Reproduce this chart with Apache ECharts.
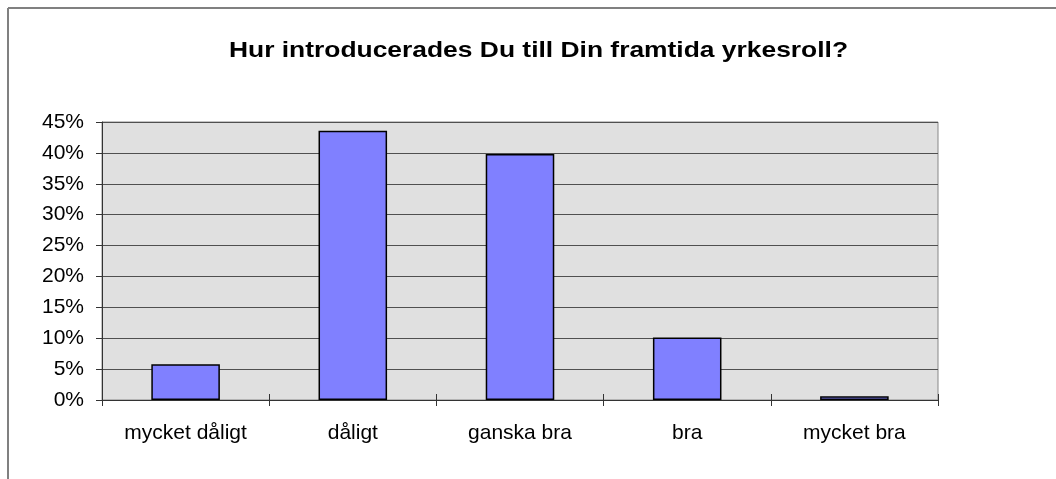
<!DOCTYPE html>
<html>
<head>
<meta charset="utf-8">
<script src="https://cdn.jsdelivr.net/npm/echarts@6/dist/echarts.min.js"></script>
<style>html,body{margin:0;padding:0;background:#fff;}#c{width:1056px;height:479px;}</style>
</head>
<body>
<div id="c"></div>
<script>
const titleText = "Hur introducerades Du till Din framtida yrkesroll?";
const categories = ["mycket dåligt", "dåligt", "ganska bra", "bra", "mycket bra"];
const values = [5.8, 43.6, 39.8, 10.1, 0.6];
const yMin = 0, yMax = 45, yStep = 5;

const chart = echarts.init(document.getElementById('c'), null, {renderer: 'canvas'});
const font = '"Liberation Sans", Arial, sans-serif';
chart.setOption({
  animation: false,
  backgroundColor: '#ffffff',
  graphic: [
    {type: 'line', shape: {x1: 8, y1: 8, x2: 1056, y2: 8}, style: {stroke: '#808080', lineWidth: 2}},
    {type: 'line', shape: {x1: 8, y1: 8, x2: 8, y2: 479}, style: {stroke: '#808080', lineWidth: 2}},
    {type: 'text', x: 538.5, y: 51, scaleX: 1.2, scaleY: 1,
     style: {text: titleText, fontFamily: font, fontSize: 22, fontWeight: 'bold', fill: '#000',
             textAlign: 'center', textVerticalAlign: 'middle'}}
  ],
  grid: {
    left: 102, right: 118, top: 122, bottom: 79,
    show: true, backgroundColor: '#e0e0e0', borderColor: '#888888', borderWidth: 1
  },
  xAxis: [{
    type: 'category', data: categories,
    axisLine: {lineStyle: {color: '#333', width: 1}},
    axisTick: {show: true, alignWithLabel: false, length: 6, lineStyle: {color: '#333'}},
    axisLabel: {fontFamily: font, fontSize: 21, color: '#000', margin: 23}
  }, {
    type: 'category', data: categories, position: 'bottom',
    axisLine: {show: false},
    axisTick: {show: true, inside: true, length: 6, lineStyle: {color: '#333'}},
    axisLabel: {show: false}
  }],
  yAxis: {
    type: 'value', min: yMin, max: yMax, interval: yStep,
    axisLine: {show: true, lineStyle: {color: '#333', width: 1}},
    axisTick: {show: true, length: 6, lineStyle: {color: '#333'}},
    axisLabel: {fontFamily: font, fontSize: 21, color: '#000', margin: 18, formatter: '{value}%'},
    splitLine: {show: true, lineStyle: {color: '#505050', width: 1}}
  },
  series: [{
    type: 'bar', data: values, barWidth: '41%',
    itemStyle: {color: '#8080ff', borderColor: '#000', borderWidth: 1.5}
  }]
});
</script>
</body>
</html>
